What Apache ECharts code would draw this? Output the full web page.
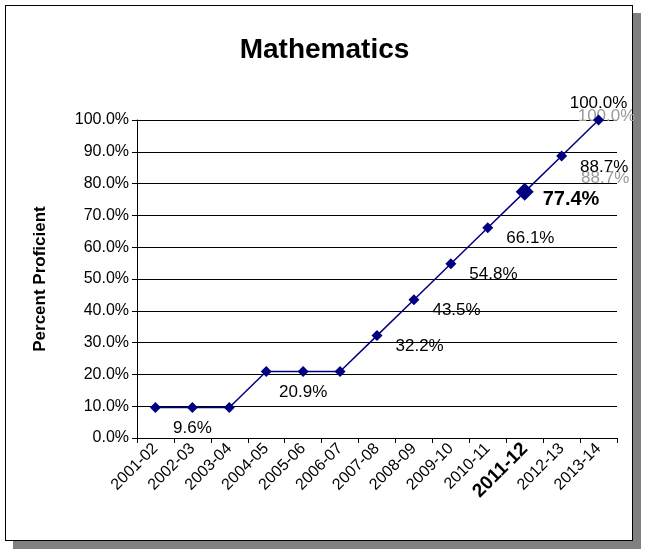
<!DOCTYPE html>
<html>
<head>
<meta charset="utf-8">
<script src="https://cdn.jsdelivr.net/npm/echarts@6/dist/echarts.min.js"></script>
<style>
  html, body { margin: 0; padding: 0; background: #fff; }
  #frame { position: absolute; left: 5px; top: 5px; width: 626px; height: 534px; border: 1px solid #000; background: #fff; box-shadow: 8px 8px 0 #808080; }
  #chart { position: absolute; left: 0; top: 0; width: 649px; height: 557px; }
</style>
</head>
<body>
<div id="frame"></div>
<div id="chart"></div>
<script>
  const years = ['2001-02', '2002-03', '2003-04', '2004-05', '2005-06', '2006-07', '2007-08',
    '2008-09', '2009-10', '2010-11', '2011-12', '2012-13', '2013-14'];
  const proficient = [9.6, 9.6, 9.6, 20.9, 20.9, 20.9, 32.2, 43.5, 54.8, 66.1, 77.4, 88.7, 100.0];
  const labelled = [1, 4, 6, 7, 8, 9, 10, 11, 12];
  const highlight = 10;
  const yTicks = [0, 10, 20, 30, 40, 50, 60, 70, 80, 90, 100];

  const font = 'Liberation Sans, Arial, sans-serif';
  const chart = echarts.init(document.getElementById('chart'));

  const points = proficient.map((v, i) => {
    const p = { value: v };
    if (i === highlight) {
      p.symbolSize = 18;
    }
    if (!labelled.includes(i)) {
      p.label = { show: false };
    } else if (i === 1 || i === 4) {
      p.label = { position: 'bottom', offset: [0, 2] };
    } else if (i === highlight) {
      p.label = { fontSize: 20, fontWeight: 'bold', offset: [4, 8] };
    } else if (i === 12) {
      p.label = { position: 'top', offset: [0, 2] };
    }
    return p;
  });

  // faint grey duplicate labels on the last two points
  const ghost = proficient.map((v, i) => {
    if (i === 11) return { value: v, label: { offset: [14, 22] } };
    if (i === 12) return { value: v, label: { position: 'top', offset: [8, 10] } };
    return { value: v, label: { show: false } };
  });

  chart.setOption({
    animation: false,
    title: {
      text: 'Mathematics',
      left: 'center',
      top: 31,
      textStyle: { fontFamily: font, fontSize: 28, fontWeight: 'bold', color: '#000' }
    },
    grid: { left: 137, right: 32, top: 120, bottom: 119, containLabel: false },
    xAxis: {
      type: 'category',
      data: years,
      boundaryGap: true,
      axisLine: { lineStyle: { color: '#000' } },
      axisTick: { show: true, interval: 0, lineStyle: { color: '#000' } },
      splitLine: { show: false },
      axisLabel: {
        interval: 0,
        rotate: 45,
        margin: 8,
        fontFamily: font,
        fontSize: 16,
        color: '#000',
        formatter: v => v === years[highlight] ? '{b|' + v + '}' : v,
        rich: { b: { fontFamily: font, fontSize: 19, fontWeight: 'bold', color: '#000' } }
      }
    },
    yAxis: {
      type: 'value',
      min: yTicks[0],
      max: yTicks[yTicks.length - 1],
      interval: 10,
      name: 'Percent Proficient',
      nameLocation: 'middle',
      nameGap: 88,
      nameTextStyle: { fontFamily: font, fontSize: 17, fontWeight: 'bold', color: '#000' },
      axisLine: { show: true, lineStyle: { color: '#000' } },
      axisTick: { show: true, lineStyle: { color: '#000' } },
      splitLine: { lineStyle: { color: '#000' } },
      axisLabel: { fontFamily: font, fontSize: 16, color: '#000', formatter: v => v.toFixed(1) + '%' }
    },
    series: [
      {
        type: 'line',
        data: ghost,
        symbol: 'circle',
        symbolSize: 1,
        itemStyle: { color: 'rgba(0,0,0,0)' },
        lineStyle: { opacity: 0 },
        z: 1,
        label: {
          show: true,
          position: 'right',
          fontFamily: font, fontSize: 17, color: '#999',
          formatter: p => p.value.toFixed(1) + '%'
        }
      },
      {
        type: 'line',
        data: points,
        symbol: 'diamond',
        symbolSize: 11,
        itemStyle: { color: '#000080' },
        lineStyle: { color: '#000080', width: 1.5 },
        z: 3,
        label: {
          show: true,
          position: 'right',
          offset: [8, 11],
          fontFamily: font,
          fontSize: 17,
          color: '#000',
          formatter: p => p.value.toFixed(1) + '%'
        }
      }
    ]
  });
</script>
</body>
</html>
